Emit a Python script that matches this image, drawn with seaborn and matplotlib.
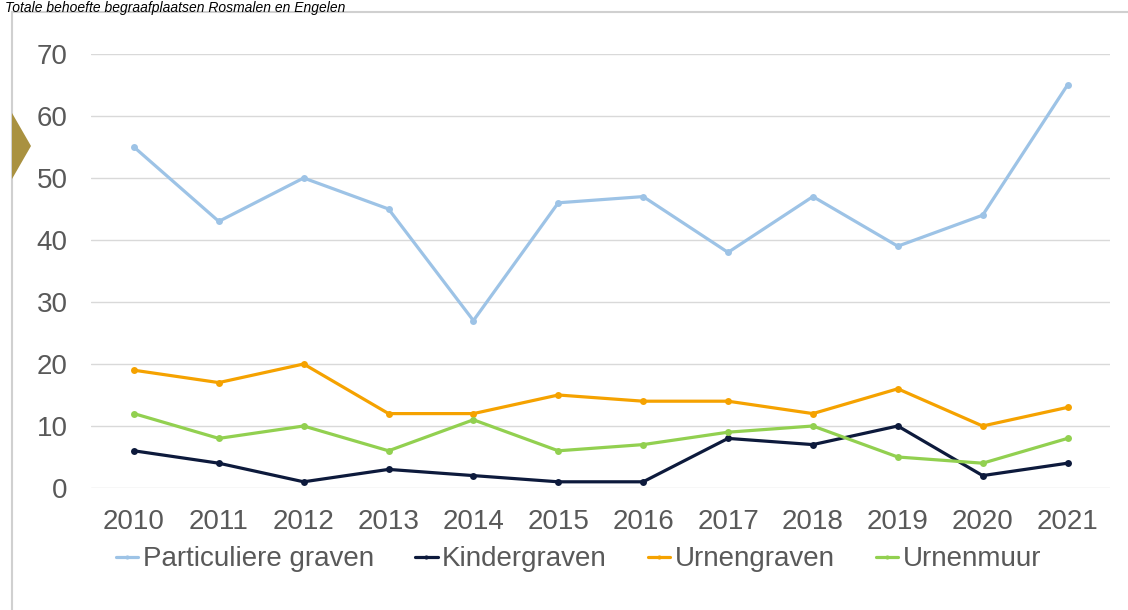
import numpy as np
import pandas as pd
import matplotlib
matplotlib.use("Agg")
import matplotlib.pyplot as plt
import matplotlib.patches as patches
import seaborn as sns

sns.set_style("white")
plt.rcParams['font.family'] = ['Liberation Sans', 'DejaVu Sans']

# data
years = [2010, 2011, 2012, 2013, 2014, 2015, 2016, 2017, 2018, 2019, 2020, 2021]
particuliere = [55, 43, 50, 45, 27, 46, 47, 38, 47, 39, 44, 65]
kinder = [6, 4, 1, 3, 2, 1, 1, 8, 7, 10, 2, 4]
urnengraven = [19, 17, 20, 12, 12, 15, 14, 14, 12, 16, 10, 13]
urnenmuur = [12, 8, 10, 6, 11, 6, 7, 9, 10, 5, 4, 8]
series_names = ["Particuliere graven", "Kindergraven", "Urnengraven", "Urnenmuur"]
colors = ["#9DC3E6", "#0D1A3C", "#F5A200", "#92D050"]

df = pd.DataFrame({"year": years,
                   "Particuliere graven": particuliere,
                   "Kindergraven": kinder,
                   "Urnengraven": urnengraven,
                   "Urnenmuur": urnenmuur})
long = df.melt(id_vars="year", var_name="serie", value_name="aantal")

fig = plt.figure(figsize=(11.28, 6.10), dpi=100)
ax = fig.add_axes([0.0811, 0.2, 0.9029, 0.7115])

# outer frame and chevron
fig.patches.append(patches.Rectangle((12/1128, -0.1), 1.2, (610-12)/610 + 0.1,
                                     transform=fig.transFigure, fill=False,
                                     edgecolor="#D0D0D0", linewidth=1.5))
fig.patches.append(patches.Polygon([(12/1128, 1-113/610), (31/1128, 1-146/610), (12/1128, 1-179/610)],
                                   closed=True, transform=fig.transFigure,
                                   facecolor="#A99140", edgecolor="none"))
fig.text(0.004, 0.999, "Totale behoefte begraafplaatsen Rosmalen en Engelen",
         fontsize=10, style="italic", ha="left", va="top", color="#000000")

sns.lineplot(data=long, x="year", y="aantal", hue="serie", hue_order=series_names,
             palette=colors, marker="o", markersize=5, markeredgewidth=0,
             linewidth=2.3, ax=ax)

ax.set_xlim(2009.5, 2021.5)
ax.set_ylim(0, 70)
ax.set_xticks(years)
ax.set_yticks(range(0, 71, 10))
ax.tick_params(axis="both", labelsize=20, labelcolor="#595959", length=0)
ax.tick_params(axis="x", pad=15)
ax.tick_params(axis="y", pad=17)
ax.grid(axis="y", color="#D9D9D9", linewidth=1)
ax.set_axisbelow(True)
for s in ax.spines.values():
    s.set_visible(False)
ax.set_xlabel("")
ax.set_ylabel("")

handles, labels = ax.get_legend_handles_labels()
ax.get_legend().remove()
fig.legend(handles, labels, loc="center", bbox_to_anchor=(0.513, 0.083), ncol=4,
           frameon=False, fontsize=20, labelcolor="#595959", handlelength=0.8,
           handletextpad=0.15, columnspacing=1.5, markerscale=0.6)

fig.savefig("out.png", dpi=100)
